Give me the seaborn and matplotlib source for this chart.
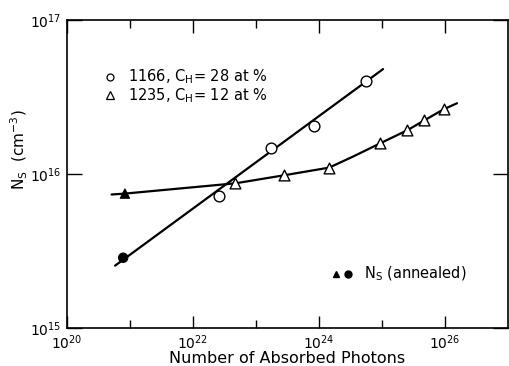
import numpy as np
import pandas as pd
import matplotlib
matplotlib.use("Agg")
import matplotlib.pyplot as plt
import seaborn as sns
from matplotlib.ticker import FixedLocator, NullFormatter, LogFormatterMathtext

# ---- data ----
# sample 1166 (C_H = 28 at %), open circles
photons_1166 = [2.6e22, 1.75e23, 8.3e23, 5.6e24]
ns_1166 = [7.2e15, 1.47e16, 2.04e16, 4.0e16]
# straight fit line through 1166
fit_1166_x = [5.8e20, 1.04e25]
fit_1166_y = [2.54e15, 4.8e16]

# sample 1235 (C_H = 12 at %), open triangles
photons_1235 = [4.7e22, 2.75e23, 1.45e24, 9.3e24, 2.5e25, 4.7e25, 9.5e25]
ns_1235 = [8.7e15, 9.8e15, 1.10e16, 1.58e16, 1.92e16, 2.23e16, 2.63e16]
# curve drawn through 1235
fit_1235_x = [5.1e20, 8.3e20, 4.7e22, 2.75e23, 1.45e24, 3.5e24, 9.3e24, 2.5e25, 4.7e25, 9.5e25, 1.55e26]
fit_1235_y = [7.36e15, 7.46e15, 8.7e15, 9.8e15, 1.10e16, 1.30e16, 1.58e16, 1.92e16, 2.23e16, 2.63e16, 2.88e16]

# annealed values (filled markers)
annealed_x = [8.3e20, 7.8e20]
annealed_y = [7.46e15, 2.86e15]
annealed_kind = ["1235", "1166"]

legend_1166 = "1166, C$_\\mathregular{H}$= 28 at %"
legend_1235 = "1235, C$_\\mathregular{H}$= 12 at %"
annealed_label = "N$_\\mathregular{S}$ (annealed)"
xlabel = "Number of Absorbed Photons"
ylabel = "N$_\\mathregular{S}$  (cm$^{-3}$)"

x_major = [1e20, 1e22, 1e24, 1e26]
x_minor = [1e21, 1e23, 1e25]
y_major = [1e15, 1e16, 1e17]

# ---- plotting ----
sns.set_style("white")
plt.rcParams["font.family"] = ["DejaVu Sans"]
plt.rcParams["mathtext.default"] = "regular"
plt.rcParams["text.color"] = "black"
plt.rcParams["axes.labelcolor"] = "black"
plt.rcParams["xtick.color"] = "black"
plt.rcParams["ytick.color"] = "black"

fig = plt.figure(figsize=(5.10, 3.66), dpi=100)
ax = fig.add_axes([67 / 510, 1 - 328 / 366, 441 / 510, 308 / 366])

df_fit1 = pd.DataFrame({"x": fit_1166_x, "y": fit_1166_y})
df_fit2 = pd.DataFrame({"x": fit_1235_x, "y": fit_1235_y})
sns.lineplot(data=df_fit1, x="x", y="y", ax=ax, color="black", lw=1.6, sort=False, zorder=2)
sns.lineplot(data=df_fit2, x="x", y="y", ax=ax, color="black", lw=1.6, sort=False, zorder=2)

df1 = pd.DataFrame({"x": photons_1166, "y": ns_1166})
df2 = pd.DataFrame({"x": photons_1235, "y": ns_1235})
sns.scatterplot(data=df1, x="x", y="y", ax=ax, marker="o", s=60, facecolor="white",
                edgecolor="black", linewidth=1.0, zorder=3)
sns.scatterplot(data=df2, x="x", y="y", ax=ax, marker="^", s=60, facecolor="white",
                edgecolor="black", linewidth=1.0, zorder=3)

dfa = pd.DataFrame({"x": annealed_x, "y": annealed_y, "k": annealed_kind})
sns.scatterplot(data=dfa, x="x", y="y", ax=ax, style="k", markers={"1235": "^", "1166": "o"},
                s=45, color="black", edgecolor="black", linewidth=0.8, legend=False, zorder=3)

ax.set_xscale("log")
ax.set_yscale("log")
ax.set_xlim(1e20, 1e27)
ax.set_ylim(1e15, 1e17)

ax.xaxis.set_major_locator(FixedLocator(x_major))
ax.xaxis.set_minor_locator(FixedLocator(x_minor))
ax.xaxis.set_major_formatter(LogFormatterMathtext())
ax.xaxis.set_minor_formatter(NullFormatter())
ax.yaxis.set_major_locator(FixedLocator(y_major))
ax.yaxis.set_minor_locator(FixedLocator([]))
ax.yaxis.set_major_formatter(LogFormatterMathtext())

ax.tick_params(axis="x", which="major", direction="in", length=9, width=1.0,
               top=True, bottom=True, labelsize=10, pad=4, colors="black")
ax.tick_params(axis="x", which="minor", direction="in", length=6, width=1.0,
               top=True, bottom=True)
ax.tick_params(axis="y", which="major", direction="in", length=11, width=1.0,
               left=True, right=True, labelsize=10, pad=4, colors="black")

for sp in ax.spines.values():
    sp.set_visible(True)
    sp.set_color("black")
    sp.set_linewidth(1.2)

ax.set_xlabel(xlabel, fontsize=11.5, labelpad=-1, color="black")
ax.set_ylabel(ylabel, fontsize=11, labelpad=2, color="black")
ax.yaxis.set_label_coords(-0.085, 0.58)

# legend-like annotations
ax.plot([0.097], [0.815], transform=ax.transAxes, marker="o", ms=5, mfc="white",
        mec="black", mew=0.9, ls="none")
ax.text(0.138, 0.815, legend_1166, transform=ax.transAxes, va="center", ha="left", fontsize=10.5)
ax.plot([0.097], [0.755], transform=ax.transAxes, marker="^", ms=5.5, mfc="white",
        mec="black", mew=0.9, ls="none")
ax.text(0.138, 0.755, legend_1235, transform=ax.transAxes, va="center", ha="left", fontsize=10.5)

ax.plot([0.610], [0.175], transform=ax.transAxes, marker="^", ms=5, color="black", ls="none")
ax.plot([0.638], [0.175], transform=ax.transAxes, marker="o", ms=5, color="black", ls="none")
ax.text(0.673, 0.175, annealed_label, transform=ax.transAxes, va="center", ha="left", fontsize=10.5)

fig.savefig("out.png", dpi=100)
